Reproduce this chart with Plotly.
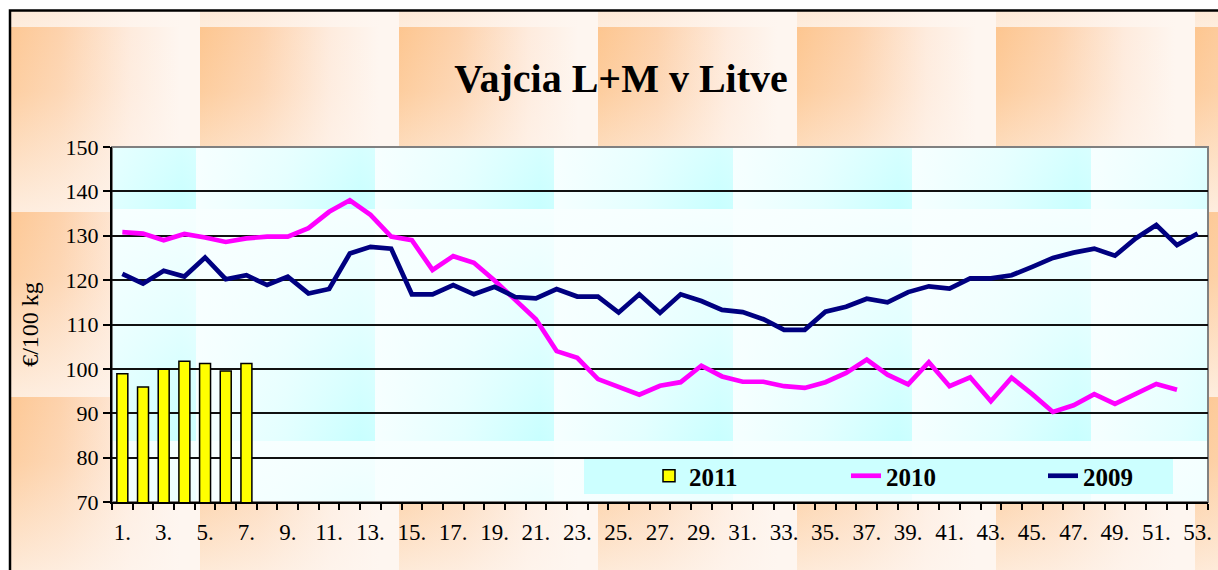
import base64
import plotly.graph_objects as go

# ---------------- data ----------------
weeks = [1, 2, 3, 4, 5, 6, 7, 8, 9, 10, 11, 12, 13, 14, 15, 16, 17, 18, 19, 20,
         21, 22, 23, 24, 25, 26, 27, 28, 29, 30, 31, 32, 33, 34, 35, 36, 37, 38,
         39, 40, 41, 42, 43, 44, 45, 46, 47, 48, 49, 50, 51, 52, 53]

y2011 = [98.9, 95.9, 99.9, 101.7, 101.2, 99.5, 101.2]

y2010 = [130.8, 130.5, 129.0, 130.4, 129.6, 128.6, 129.4, 129.8, 129.8, 131.7,
         135.4, 138.0, 134.7, 129.8, 129.0, 122.3, 125.4, 123.9, 119.9, 115.5,
         111.2, 104.0, 102.5, 97.7, 95.9, 94.2, 96.2, 97.0, 100.7, 98.3,
         97.1, 97.1, 96.1, 95.7, 97.0, 99.1, 102.1, 98.7, 96.5, 101.5,
         96.1, 98.1, 92.7, 98.0, 94.3, 90.3, 91.8, 94.3, 92.1, 94.3,
         96.6, 95.3]

y2009 = [121.4, 119.2, 122.1, 120.8, 125.1, 120.2, 121.1, 118.9, 120.8, 117.0,
         118.0, 126.0, 127.5, 127.1, 116.8, 116.8, 118.9, 116.8, 118.5, 116.2,
         115.9, 118.0, 116.3, 116.3, 112.7, 116.8, 112.6, 116.8, 115.3, 113.3,
         112.8, 111.2, 108.8, 108.8, 112.9, 114.0, 115.8, 115.0, 117.3, 118.6,
         118.1, 120.4, 120.4, 121.1, 123.0, 125.0, 126.2, 127.1, 125.5, 129.4,
         132.4, 127.9, 130.5]

label_weeks = [1, 3, 5, 7, 9, 11, 13, 15, 17, 19, 21, 23, 25, 27, 29, 31, 33,
               35, 37, 39, 41, 43, 45, 47, 49, 51, 53]
label_text = ["1.", "3.", "5.", "7.", "9.", "11.", "13.", "15.", "17.", "19.",
              "21.", "23.", "25.", "27.", "29.", "31.", "33.", "35.", "37.",
              "39.", "41.", "43.", "45.", "47.", "49.", "51.", "53."]

title_text = "Vajcia L+M v Litve"
y_title = "€/100 kg"
series_names = ["2011", "2010", "2009"]

# ---------------- layout geometry (pixels) ----------------
W, H = 1218, 570
L, R, T, B = 112, 10, 147, 68
PW, PH = W - L - R, H - T - B
SERIF = "Liberation Serif, Times New Roman, serif"

# ---------------- decorative textured background (SVG) ----------------
def build_background():
    s = []
    s.append(f'<svg xmlns="http://www.w3.org/2000/svg" width="{W}" height="{H}" '
             f'viewBox="0 0 {W} {H}" preserveAspectRatio="none">')
    s.append('<defs>'
             '<linearGradient id="oh" x1="0" y1="0" x2="1" y2="0">'
             '<stop offset="0" stop-color="#FDC690"/>'
             '<stop offset="0.3" stop-color="#FDD2AC"/>'
             '<stop offset="0.65" stop-color="#FEEBDD"/>'
             '<stop offset="0.9" stop-color="#FEF6F0"/>'
             '<stop offset="1" stop-color="#FEF6F0"/></linearGradient>'
             '<linearGradient id="ov" x1="0" y1="0" x2="0" y2="1">'
             '<stop offset="0" stop-color="#FEF6F0" stop-opacity="0"/>'
             '<stop offset="0.35" stop-color="#FEF6F0" stop-opacity="0.15"/>'
             '<stop offset="1" stop-color="#FEF6F0" stop-opacity="0.8"/></linearGradient>'
             '<linearGradient id="ph" x1="0" y1="0" x2="1" y2="0">'
             '<stop offset="0" stop-color="#F6FFFF"/>'
             '<stop offset="0.5" stop-color="#E2FFFF"/>'
             '<stop offset="0.92" stop-color="#C8FFFF"/>'
             '<stop offset="1" stop-color="#CCFFFF"/></linearGradient>'
             '<linearGradient id="pv" x1="0" y1="0" x2="0" y2="1">'
             '<stop offset="0" stop-color="#F8FFFF" stop-opacity="0.95"/>'
             '<stop offset="0.5" stop-color="#F8FFFF" stop-opacity="0.55"/>'
             '<stop offset="1" stop-color="#F8FFFF" stop-opacity="0"/></linearGradient>'
             f'<clipPath id="oc"><rect x="10" y="10" width="{W}" height="{H}"/></clipPath>'
             f'<clipPath id="pc"><rect x="{L}" y="{T}" width="{PW}" height="{PH}"/></clipPath>'
             '</defs>')
    s.append('<g clip-path="url(#oc)">')
    s.append(f'<rect x="0" y="0" width="{W}" height="{H}" fill="#FEF6F0"/>')
    for cx in range(1, W, 199):
        for cy in (-158, 27, 212, 397):
            s.append(f'<rect x="{cx}" y="{cy}" width="199" height="185" fill="url(#oh)"/>')
            s.append(f'<rect x="{cx}" y="{cy}" width="199" height="185" fill="url(#ov)"/>')
    s.append('</g>')
    s.append('<g clip-path="url(#pc)">')
    s.append(f'<rect x="{L}" y="{T}" width="{PW}" height="{PH}" fill="#F6FFFF"/>')
    for cx in range(17 - 179, W, 179):
        for cy in (-23, 209, 441):
            s.append(f'<rect x="{cx}" y="{cy}" width="179" height="232" fill="url(#ph)"/>')
            s.append(f'<rect x="{cx}" y="{cy}" width="179" height="232" fill="url(#pv)"/>')
    s.append('</g></svg>')
    return "data:image/svg+xml;base64," + base64.b64encode("".join(s).encode()).decode()


def px_x(x):
    return (x - L) / PW


def px_y(y):
    return (H - B - y) / PH


# ---------------- figure ----------------
fig = go.Figure()
fig.add_trace(go.Bar(x=weeks[:len(y2011)], y=y2011, name=series_names[0],
                     marker=dict(color="#FFFF00", line=dict(color="black", width=1.5))))
fig.add_trace(go.Scatter(x=weeks[:len(y2010)], y=y2010, name=series_names[1], mode="lines",
                         line=dict(color="#FF00FF", width=4.7)))
fig.add_trace(go.Scatter(x=weeks, y=y2009, name=series_names[2], mode="lines",
                         line=dict(color="#000080", width=4.7)))

fig.update_layout(
    width=W, height=H,
    margin=dict(l=L, r=R, t=T, b=B, pad=0, autoexpand=False),
    paper_bgcolor="white",
    plot_bgcolor="rgba(0,0,0,0)",
    font=dict(family=SERIF, size=22, color="black"),
    bargap=0.47,
    showlegend=True,
    title=dict(text=f"<b>{title_text}</b>", x=621 / W, xanchor="center",
               y=1 - 78 / H, yanchor="middle",
               font=dict(family=SERIF, size=40, color="black")),
    legend=dict(orientation="h", x=px_x(649), y=px_y(453), xanchor="left", yanchor="top",
                bgcolor="rgba(0,0,0,0)", borderwidth=0, entrywidth=152,
                font=dict(family=SERIF, size=25, color="black", weight="bold"),
                traceorder="normal"),
    xaxis=dict(range=[0.5, 53.5], tickmode="array", tickvals=label_weeks, ticktext=label_text,
               ticks="outside", ticklen=8, tickcolor="rgba(0,0,0,0)",
               showgrid=False, zeroline=False, showline=True, linecolor="black", linewidth=2,
               tickfont=dict(family=SERIF, size=23, color="black"),
               minor=dict(tickmode="linear", tick0=0.5, dtick=1, ticks="outside", ticklen=6,
                          tickcolor="black", tickwidth=1.5, showgrid=False)),
    yaxis=dict(range=[70, 150], tickmode="linear", tick0=70, dtick=10,
               ticks="outside", ticklen=7, tickcolor="black", tickwidth=1.5,
               showgrid=True, gridcolor="#111111", gridwidth=1.5, zeroline=False,
               showline=True, linecolor="black", linewidth=2,
               tickfont=dict(family=SERIF, size=22, color="black"),
               title=dict(text=y_title, standoff=20, font=dict(family=SERIF, size=24, color="black"))),
    images=[dict(source=build_background(), xref="paper", yref="paper",
                 x=-L / PW, y=1 + T / PH, sizex=W / PW, sizey=H / PH,
                 xanchor="left", yanchor="top", sizing="stretch", layer="below")],
    shapes=[
        # legend panel
        dict(type="rect", xref="paper", yref="paper", x0=px_x(584), x1=px_x(1173),
             y0=px_y(494), y1=px_y(459), fillcolor="#CCFFFF", line=dict(width=0), layer="below"),
        # plot-area frame
        dict(type="rect", xref="paper", yref="paper", x0=0, x1=1, y0=0, y1=1,
             line=dict(color="#808080", width=2), layer="below"),
        # outer chart frame
        dict(type="rect", xref="paper", yref="paper", x0=px_x(10), x1=px_x(1240),
             y0=px_y(590), y1=px_y(10.5), line=dict(color="black", width=2.5), layer="above"),
    ],
)

fig.write_html("out.html", config={"displayModeBar": False},
               post_script="document.body.style.margin='0';document.body.style.overflow='hidden';")
